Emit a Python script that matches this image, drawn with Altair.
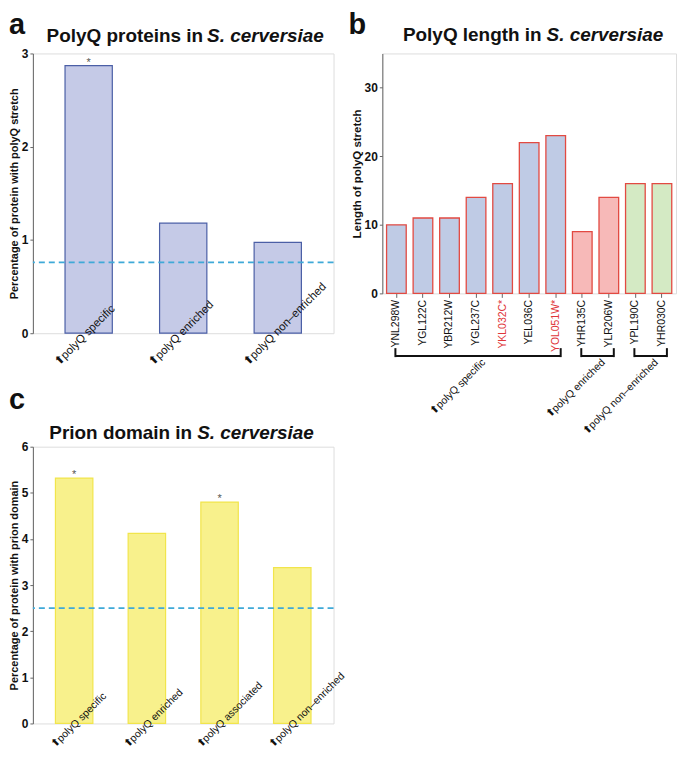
import json
import altair as alt
import pandas as pd

FONT = "Liberation Sans"
ARROW = "\u2b06"

# ---------------- data ----------------
# panel a
a_groups = ["polyQ specific", "polyQ enriched", "polyQ non\u2013enriched"]
a_percent = [2.87, 1.18, 0.975]
a_star = ["*", "", ""]
a_genome_level = 0.76

# panel b
b_genes = ["YNL298W", "YGL122C", "YBR212W", "YGL237C", "YKL032C*", "YEL036C",
           "YOL051W*", "YHR135C", "YLR206W", "YPL190C", "YHR030C"]
b_length = [10, 11, 11, 14, 16, 22, 23, 9, 14, 16, 16]
b_class = ["polyQ specific"] * 7 + ["polyQ enriched"] * 2 + ["polyQ non\u2013enriched"] * 2
b_red_genes = ["YKL032C*", "YOL051W*"]
b_bracket_names = ["polyQ specific", "polyQ enriched", "polyQ non\u2013enriched"]
b_bracket_first = ["YNL298W", "YHR135C", "YPL190C"]
b_bracket_last = ["YOL051W*", "YLR206W", "YHR030C"]
b_bracket_size = [7, 2, 2]

# panel c
c_groups = ["polyQ specific", "polyQ enriched", "polyQ associated", "polyQ non\u2013enriched"]
c_percent = [5.32, 4.12, 4.80, 3.38]
c_star = ["*", "", "*", ""]
c_genome_level = 2.5

INK = "#111111"
FRAME = "#666666"
DASH = "#3fa9d8"
TITLE_SIZE = 19


def one(text):
    return pd.DataFrame({"t": [text]})


def title_layers(left, right, split_end, split_start, ty, letter, lx, ly, lbase):
    t1 = alt.Chart(one(left)).mark_text(
        align="right", baseline="alphabetic", fontSize=TITLE_SIZE, fontWeight="bold", color=INK
    ).encode(x=alt.value(split_end), y=alt.value(ty), text="t:N")
    t2 = alt.Chart(one(right)).mark_text(
        align="left", baseline="alphabetic", fontSize=TITLE_SIZE, fontWeight="bold",
        fontStyle="italic", color=INK
    ).encode(x=alt.value(split_start), y=alt.value(ty), text="t:N")
    let = alt.Chart(one(letter)).mark_text(
        align="left", baseline=lbase, fontSize=29, fontWeight="bold", color=INK
    ).encode(x=alt.value(lx), y=alt.value(ly), text="t:N")
    return [t1, t2, let]


def yaxis(values, title, H, title_x, title_size=11):
    return alt.Axis(values=values, format="d", title=title, grid=False, tickSize=3,
                    labelPadding=2, labelFontSize=12, labelFontWeight="bold", labelColor=INK,
                    titleFontSize=title_size, titleFontWeight="bold", titleColor=INK,
                    titleX=title_x, titleY=H / 2, titleBaseline="bottom", titleAngle=270,
                    domainColor=FRAME, tickColor=FRAME)


def percent_panel(groups, values, stars, level, W, H, ymax, yticks, ytitle,
                  fill, stroke, pi, po, label_dx, label_dy, label_size,
                  titles, letter_cfg):
    df = pd.DataFrame({"group": groups, "value": values, "star": stars,
                       "label": [ARROW + g for g in groups]})
    xs = alt.Scale(domain=groups, paddingInner=pi, paddingOuter=po)
    ys = alt.Scale(domain=[0, ymax], nice=False)
    base = alt.Chart(df)
    bars = base.mark_bar(fill=fill, stroke=stroke, strokeWidth=1.2).encode(
        x=alt.X("group:N", scale=xs, axis=None),
        y=alt.Y("value:Q", scale=ys, axis=yaxis(yticks, ytitle, H, -13)),
    )
    level_rule = alt.Chart(pd.DataFrame({"value": [level]})).mark_rule(
        color=DASH, strokeDash=[6, 4], strokeWidth=1.6
    ).encode(y=alt.Y("value:Q", scale=ys))
    star_txt = base.mark_text(fontSize=11, color="#555555", baseline="alphabetic").encode(
        x=alt.X("group:N", scale=xs, axis=None),
        y=alt.Y("value:Q", scale=ys),
        text="star:N",
    )
    labels = base.mark_text(angle=315, align="left", baseline="alphabetic",
                            xOffset=label_dx, fontSize=label_size, color=INK).encode(
        x=alt.X("group:N", scale=xs, axis=None),
        y=alt.value(H + label_dy),
        text="label:N",
    )
    extra = title_layers(*titles, *letter_cfg)
    return alt.layer(bars, level_rule, star_txt, labels, *extra).properties(width=W, height=H)


# ---------------- layout ----------------
Wa, Ha = 302, 281
Wb, Hb = 295, 241
Wc, Hc = 302, 278

panel_a = percent_panel(
    a_groups, a_percent, a_star, a_genome_level, Wa, Ha, 3, [0, 1, 2, 3],
    "Percentage of protein with polyQ stretch", "#c5cae7", "#4b5fa6",
    0.5, 0.34, -30, 33, 11.5,
    ("PolyQ proteins in", "S. cerversiae", 171, 175, -12),
    ("a", -24, -43, "top"),
)

panel_c = percent_panel(
    c_groups, c_percent, c_star, c_genome_level, Wc, Hc, 6, [0, 1, 2, 3, 4, 5, 6],
    "Percentage of protein with prion domain", "#f8f18c", "#f1e54c",
    0.485, 0.31, -19, 25, 10.5,
    ("Prion domain in", "S. cerversiae", 160, 165, -8),
    ("c", -24, -38, "alphabetic"),
)

# panel b
dfb = pd.DataFrame({"gene": b_genes, "length": b_length, "cls": b_class})
b_pi, b_po = 0.26, 0.16
xbs = alt.Scale(domain=b_genes, paddingInner=b_pi, paddingOuter=b_po)
ybs = alt.Scale(domain=[0, 35], nice=False)
red_test = "indexof(" + json.dumps(b_red_genes) + ", datum.value) >= 0"
b_bars = alt.Chart(dfb).mark_bar(stroke="#e24a42", strokeWidth=1.3).encode(
    x=alt.X("gene:N", scale=xbs, axis=alt.Axis(
        title=None, labelAngle=270, labelFontSize=10.5, labelPadding=2, tickSize=4,
        tickColor=FRAME, domain=False,
        labelColor={"condition": {"test": red_test, "value": "#e0363a"}, "value": INK})),
    y=alt.Y("length:Q", scale=ybs,
            axis=yaxis([0, 10, 20, 30], "Length of polyQ stretch", Hb, -20, 11.5)),
    fill=alt.Fill("cls:N", scale=alt.Scale(domain=b_bracket_names,
                                           range=["#bfcbe5", "#f7b9b8", "#d4eac4"]), legend=None),
)
dfbr = pd.DataFrame({"name": b_bracket_names, "gene": b_bracket_first, "last": b_bracket_last})
br_h = alt.Chart(dfbr).mark_rule(color=INK, strokeWidth=2, xOffset=-1, x2Offset=5).encode(
    x=alt.X("gene:N", scale=xbs), x2="last:N", y=alt.value(Hb + 63))
br_l = alt.Chart(dfbr).mark_rule(color=INK, strokeWidth=2, xOffset=-1).encode(
    x=alt.X("gene:N", scale=xbs), y=alt.value(Hb + 55), y2=alt.value(Hb + 64))
br_r = alt.Chart(dfbr.rename(columns={"gene": "first", "last": "gene"})).mark_rule(
    color=INK, strokeWidth=2, xOffset=5).encode(
    x=alt.X("gene:N", scale=xbs), y=alt.value(Hb + 55), y2=alt.value(Hb + 64))
b_step = Wb / (len(b_genes) - b_pi + 2 * b_po)
b_glabels = []
for name, first, n in zip(b_bracket_names, b_bracket_first, b_bracket_size):
    b_glabels.append(
        alt.Chart(pd.DataFrame({"t": [ARROW + name], "gene": [first]})).mark_text(
            angle=315, align="right", baseline="alphabetic", fontSize=10.5, color=INK,
            xOffset=(n - 1) / 2 * b_step + 10,
        ).encode(x=alt.X("gene:N", scale=xbs), y=alt.value(Hb + 70), text="t:N")
    )
b_extra = title_layers("PolyQ length in", "S. cerversiae", 160, 165, -13, "b", -34, -43, "top")
panel_b = alt.layer(b_bars, br_h, br_l, br_r, *b_glabels, *b_extra).properties(width=Wb, height=Hb)

chart = alt.concat(
    panel_a, panel_b, panel_c, columns=2, bounds="flush",
    spacing={"row": 114, "column": 49},
).properties(padding=0).configure_view(stroke=FRAME, strokeWidth=1).configure(font=FONT)

chart.save("out.html", embed_options={"renderer": "svg", "actions": False})
